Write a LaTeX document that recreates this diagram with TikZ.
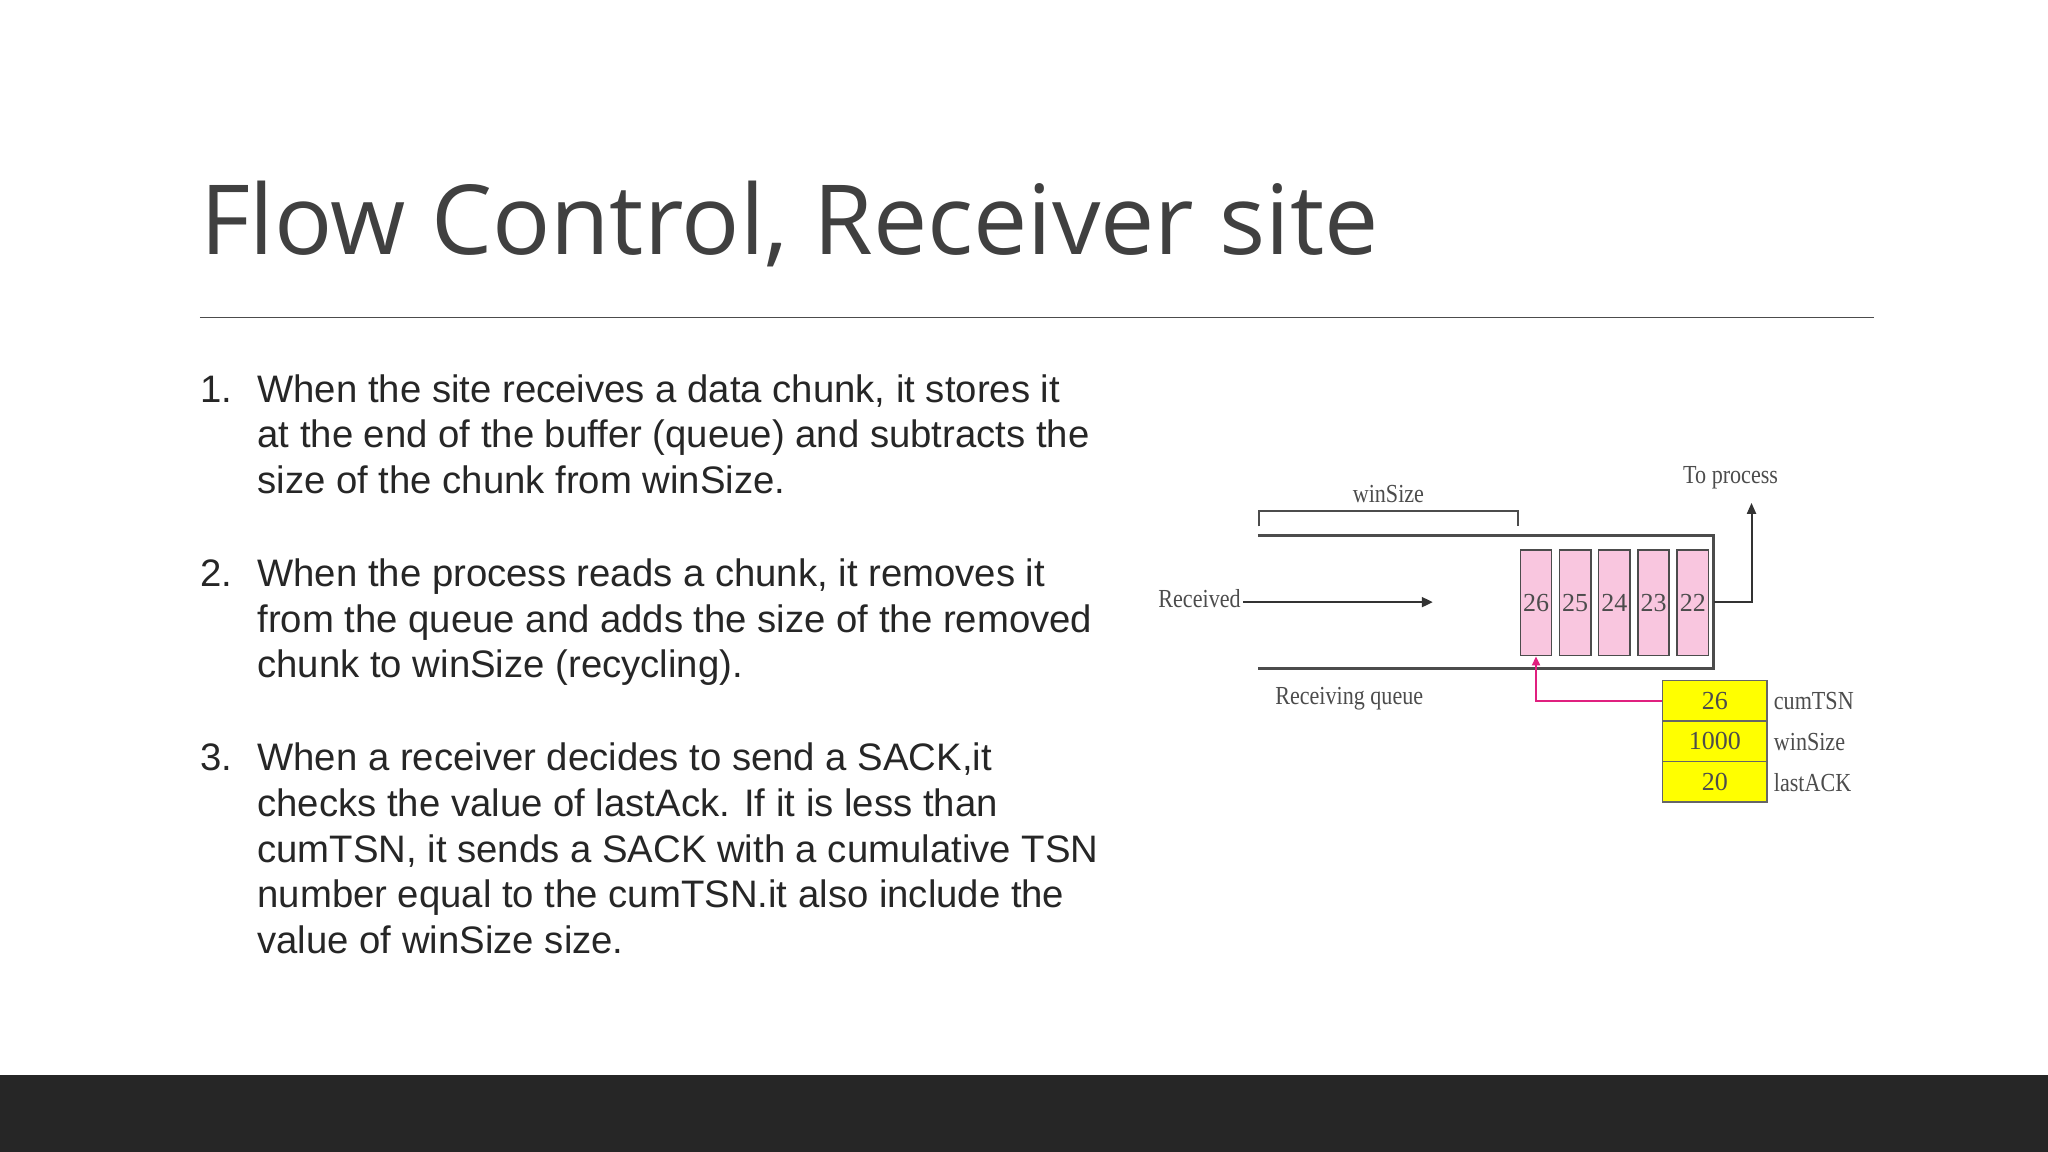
\documentclass[tikz,border=0pt]{standalone}
\usepackage{fontspec}
\setmainfont{Liberation Sans}
\newfontfamily\titlefont{Open Sans}
\newfontfamily\serfont{Liberation Serif}
\usetikzlibrary{arrows.meta}
\definecolor{titlegray}{HTML}{404040}
\definecolor{bargray}{HTML}{262626}
\definecolor{pinkbox}{HTML}{F9C6DF}
\definecolor{magline}{HTML}{E0207F}
\definecolor{yel}{HTML}{FFFF00}
\newcommand{\lines}[1]{\begin{tabular}[t]{@{}l@{}}#1\end{tabular}}
\begin{document}
\begin{tikzpicture}[x=1.306pt,y=-1.306pt,
  body/.style={anchor=base west,inner sep=0pt,font=\fontsize{38.3}{45.7}\selectfont,text=black!85},
  lab/.style={inner sep=0pt,font=\serfont\fontsize{26}{26}\selectfont,text=black!70,xscale=0.85},
  chunk/.style={draw=black!70,fill=pinkbox,line width=1.5pt,minimum width=24*1.306pt,minimum height=81*1.306pt,inner sep=0pt,font=\serfont\fontsize{26}{26}\selectfont,text=black!70},
  ybox/.style={draw=black!60,fill=yel,line width=1.5pt,minimum width=80*1.306pt,minimum height=31*1.306pt,inner sep=0pt,font=\serfont\fontsize{26}{26}\selectfont,text=black!70},
  wall/.style={draw=black!70,line width=2.5pt}]
\useasboundingbox (0,0) rectangle (1568,882);
\fill[bargray] (0,823) rectangle (1568,882);
\node[anchor=base west,inner sep=0pt,font=\titlefont\fontsize{96.7}{96.7}\selectfont,text=titlegray] (title) at (153,195) {Flow Control, Receiver site};
\coordinate (r1) at (153,243); \coordinate (r2) at (1435,243);
\draw[black!70,line width=1.5pt] (r1) -- (r2);
% list
\node[body] (n1) at (153,308) {1.};
\node[body] (t1) at (197,308) {\lines{When the site receives a data chunk, it stores it\\at the end of the buffer (queue) and subtracts the\\size of the chunk from winSize.}};
\node[body] (n2) at (153,449) {2.};
\node[body] (t2) at (197,449) {\lines{When the process reads a chunk, it removes it\\from the queue and adds the size of the removed\\chunk to winSize (recycling).}};
\node[body] (n3) at (153,590) {3.};
\node[body] (t3) at (197,590) {\lines{When a receiver decides to send a SACK,it\\checks the value of lastAck. If it is less than\\cumTSN, it sends a SACK with a cumulative TSN\\number equal to the cumTSN.it also include the\\value of winSize size.}};
% diagram
\coordinate (tl) at (963,410); \coordinate (tr) at (1312,410);
\coordinate (bl) at (963,512); \coordinate (br) at (1312,512);
\draw[wall] (tl) -- (tr) -- (br) -- (bl);
\coordinate (b1) at (964,403); \coordinate (b2) at (1162,403);
\draw[black!70,line width=1.8pt] (b1) -- (964,391) -- (1162,391) -- (b2);
\node[lab] (ws) at (1063,378) {winSize};
\node[chunk] (c26) at (1176,461.5) {26};
\node[chunk] (c25) at (1206,461.5) {25};
\node[chunk] (c24) at (1236,461.5) {24};
\node[chunk] (c23) at (1266,461.5) {23};
\node[chunk] (c22) at (1296,461.5) {22};
\node[lab,anchor=east] (rec) at (950,458) {Received};
\coordinate (ra) at (1097,461);
\draw[black!80,line width=2pt,-{Triangle[length=11pt,width=10pt]}] (rec.east) ++(2,3) -- (ra);
\coordinate (o1) at (1312,461); \coordinate (o2) at (1341,385);
\draw[black!80,line width=2pt,-{Triangle[length=11pt,width=9pt]}] (o1) -- (1341,461) -- (o2);
\node[lab] (tp) at (1325,366) {To process};
\node[lab] (rq) at (1033,535) {Receiving queue};
\node[ybox] (y1) at (1313,536.5) {26};
\node[ybox] (y2) at (1313,567.5) {1000};
\node[ybox] (y3) at (1313,598.5) {20};
\node[lab,anchor=west] at (1358,537) {cumTSN};
\node[lab,anchor=west] at (1358,568) {winSize};
\node[lab,anchor=west] at (1358,599) {lastACK};
\draw[magline,line width=2pt,-{Triangle[length=9pt,width=8pt]}] (y1.west) -- (1176,536.5) -- (c26.south);
\end{tikzpicture}
\end{document}
